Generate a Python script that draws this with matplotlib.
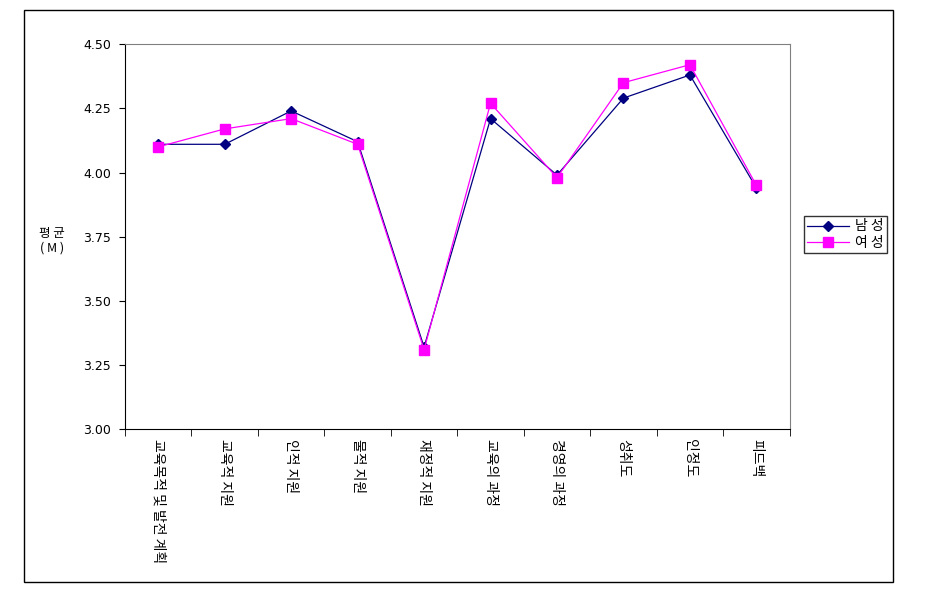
import matplotlib
matplotlib.use("Agg")
import matplotlib.pyplot as plt
from matplotlib.patches import Rectangle

plt.rcParams['font.family'] = ['Noto Sans CJK KR', 'DejaVu Sans']

# data
categories = ['교육목적 및 발전 계획', '교육적 지원', '인적 지원', '물적 지원', '재정적 지원',
              '교육의 과정', '경영의 과정', '성취도', '인정도', '피드백']
male = [4.11, 4.11, 4.24, 4.12, 3.32, 4.21, 3.99, 4.29, 4.38, 3.94]
female = [4.10, 4.17, 4.21, 4.11, 3.31, 4.27, 3.98, 4.35, 4.42, 3.95]
y_ticks = [3.00, 3.25, 3.50, 3.75, 4.00, 4.25, 4.50]

fig = plt.figure(figsize=(9.4, 5.97), dpi=100)
ax = fig.add_axes([0.133, 0.281, 0.707, 0.645])

x = list(range(len(categories)))
ax.plot(x, male, color='#000080', marker='D', markersize=5, linewidth=0.9, label='남 성')
ax.plot(x, female, color='#FF00FF', marker='s', markersize=6.5, linewidth=0.9, label='여 성')

ax.set_xlim(-0.5, len(categories) - 0.5)
ax.set_ylim(3.0, 4.5)
ax.set_yticks(y_ticks)
ax.set_yticklabels(['%.2f' % v for v in y_ticks], fontsize=9, family='DejaVu Sans')

# category labels at the centres, tick marks between categories
ax.set_xticks(x)
ax.set_xticklabels(categories, rotation=-90, fontsize=10, va='top', ha='center')
ax.tick_params(axis='x', length=0, pad=7)
ax.set_xticks([i - 0.5 for i in range(len(categories) + 1)], minor=True)
ax.tick_params(axis='x', which='minor', length=5, direction='out')
ax.tick_params(axis='y', length=4, direction='out', pad=6)

for side in ['top', 'right']:
    ax.spines[side].set_color('#808080')
for side in ['left', 'bottom']:
    ax.spines[side].set_color('black')

ax.text(-0.11, 0.49, '평 균\n( M )', transform=ax.transAxes, ha='center', va='center',
        fontsize=9, linespacing=1.2)

leg = fig.legend(loc='upper left', bbox_to_anchor=(804 / 940, 1 - 216 / 597), fontsize=10,
                 frameon=True, fancybox=False, edgecolor='black', borderpad=0.25,
                 handlelength=3, labelspacing=0.15, borderaxespad=0, handletextpad=0.4)
leg.get_frame().set_linewidth(1)

fig.patches.append(Rectangle((24 / 940, 1 - 582 / 597), 869 / 940, 572 / 597,
                             transform=fig.transFigure, fill=False, edgecolor='black',
                             linewidth=1))

fig.savefig('out.png', dpi=100)
